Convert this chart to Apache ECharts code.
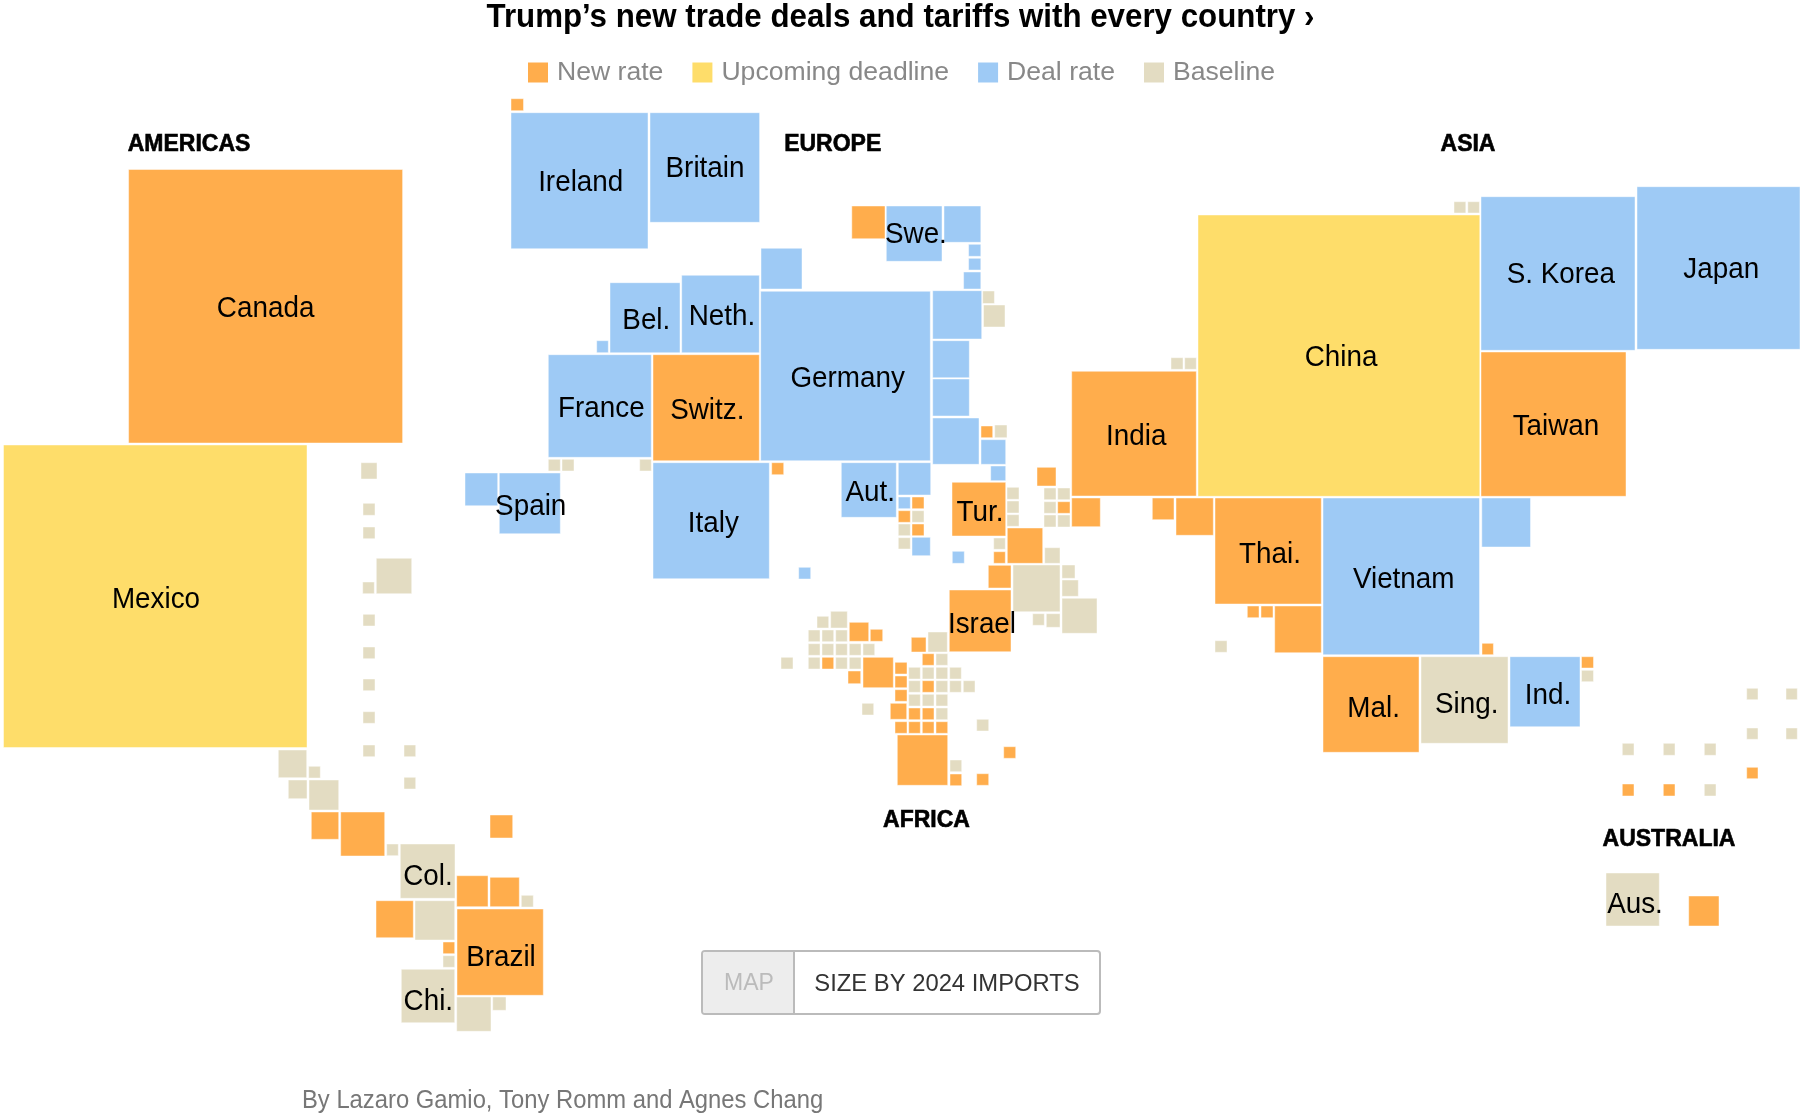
<!DOCTYPE html>
<html><head><meta charset="utf-8">
<style>html,body{margin:0;padding:0;background:#fff}#c{width:1806px;height:1120px}</style>
<script src="https://cdn.jsdelivr.net/npm/echarts@6/dist/echarts.min.js"></script>
</head><body><div id="c"></div>
<script>
// Cartogram cells: [x, y, width, height] in cartogram units
const newRate = [
[128.6,169.5,274,273.5],[511,98.7,12.5,12],[851.8,206,33.2,32.7],[653,354.7,106.3,106],[771.7,462.7,12,12],
[912,497,12,11.7],[898.3,510.7,12,11.6],[912,524,12,11.7],[981,426,11.7,11.7],[952,482.3,53.7,53.7],
[1037,467.3,19,18.7],[1057.7,501.7,12.3,11.6],[1071.7,498,28.6,28.7],[1071.7,371.3,124.6,124.7],
[1152.3,498,21.7,21.7],[1176,498,37.3,37.3],[1215,498,106.3,106],[1247.3,606,11.7,11.7],[1261,606,12,11.7],
[1274.7,606,46.6,46.7],[1482,643.3,11.4,11.4],[1323,656.7,96,95.6],[1581.5,656.7,12,11.3],[1746.7,767.3,11.3,11.4],
[1622.3,784,11.7,12],[1663.3,784,11.7,12],[1688.7,896,30.3,30],[1481,352,145,144.3],
[1007.3,528,35.4,35.3],[993.7,551.7,11.6,11.6],[988.3,565.3,22.7,22.7],[949.3,590,61.7,61.7],
[849.3,622.3,19.4,19],[870.3,629.3,12.4,12],[822,657.3,11.7,11.7],[863,657.3,30.3,30.4],[848,671,12.7,12.7],
[895,662.3,12,11.7],[895,676,12,11.7],[895,689.7,12,11.6],[890.3,703.3,16.4,16],
[895,721.7,12,11.6],[908.7,721.7,11.6,11.6],[922.3,721.7,11.7,11.6],[936,721.7,11.7,11.6],
[908.7,708,11.6,11.7],[922.3,708,11.7,11.7],[922.3,680.7,11.7,11.6],[922.3,653.7,11.7,11.6],
[911.3,637.3,14.7,14.7],[897.3,735,50.4,50.3],[950,774,11.7,11.7],[976.7,773.7,12,11.6],[1003.7,746.7,12,11.6],
[311.3,812,27.4,27.3],[340.7,812,44,44],[490,815,22.7,23],[456.7,875.7,31.3,31],[490,877.3,29.3,29.4],
[376,900.7,37.3,37],[457,909,86.3,86.3],[443,942,11.7,11.7]
];
const upcoming = [
[3.5,445,303.5,302.5],[1198,215,281.8,281.3]
];
const dealRate = [
[511,112.7,137,136],[650,112.7,109.6,109.6],[886.3,206,55.7,55.3],[944,206,36.8,36.3],[968.6,244.3,12.2,12],
[968.6,258.3,12.2,11.7],[963.6,272,17.2,17],[761,248.3,41,40.7],[610,282.7,70,70],[681.7,275.3,77.6,77.4],
[596.7,340.7,11.6,12],[548.3,354.7,103,102.6],[760.7,291.3,169.6,169.4],[932.7,290.7,49,48.3],[932.7,340.7,36.6,37],
[932.7,379,36.6,37],[932.7,418,46.3,46.3],[653,462.7,116.3,116],[465,473,32.7,32.7],[499.3,473,61,60.7],
[841.3,462.7,55,54.6],[898.3,462.7,32.4,32.3],[898.3,497,12,11.7],[912,537.3,18.3,18.4],[798.7,567.3,12,11.7],
[981,439.7,24.7,24.6],[990.7,466,15,14.7],[952.3,551.3,12,12],
[1323,498,156.5,156.7],[1481.8,498,48.7,49],[1510,656.7,70,70],[1481,196.7,154,153.6],[1637,186.7,163,162.6]
];
const baseline = [
[982.7,291,11.7,12.5],[983.5,305,21.5,22],[548.3,459.3,12,11.7],[562,459.3,12,11.7],[639.7,459.3,11.6,11.7],
[898.3,524,12,11.7],[912,510.7,12,11.6],[898.3,537.7,12,11.3],[994.7,425,12.3,12.7],
[1007,487.3,12,12],[1007,501,12,12],[1007,514.7,12,11.6],[1044,488,12,11.7],[1057.7,488,12.3,11.7],
[1044,501.7,12,11.6],[1044,515,12,12],[1057.7,515,12.3,12],[1171,357.7,12,11.6],[1184.7,357.7,11.6,11.6],
[1215,640.7,12,11.6],[1454,201.7,11.8,11.3],[1467.8,201.7,11.6,11.3],[1421,656.7,87,86.6],[1581.5,670.3,12,11.4],
[1746.7,688.3,11.3,11.4],[1786,688.3,11.3,11.4],[1746.7,728,11.3,11.3],[1786,728,11.3,11.3],
[1622.3,743.3,11.7,12],[1663.3,743.3,11.7,12],[1704.3,743.3,11.7,12],[1704.3,784,11.7,12],[1606,873,53.3,53],
[993.7,538,11.6,11.3],[1044.7,547.7,15.3,15.6],[1013,565,47,46.7],[1062,565,13,13.3],[1062,580,16.3,16.3],
[1062,598.3,35,35],[1032.7,613.7,11.6,11.6],[1046.3,613.7,13.7,13.6],
[817,616.3,11.7,11.7],[830.7,611.3,16.6,16.7],[808.3,630,11.7,11.7],[822,630,11.7,11.7],[835.7,630,11.6,11.7],
[808.3,643.7,11.7,11.6],[822,643.7,11.7,11.6],[835.7,643.7,11.6,11.6],[849.3,643.7,11.7,11.6],[863,643.7,11.7,11.6],
[808.3,657.3,11.7,11.7],[835.7,657.3,11.6,11.7],[849.3,657.3,11.7,11.7],[781,657.3,12,11.7],[862,703.3,11.7,11.7],
[936,708,11.7,11.7],[908.7,694.3,11.6,11.7],[922.3,694.3,11.7,11.7],[936,694.3,11.7,11.7],
[908.7,680.7,11.6,11.6],[936,680.7,11.7,11.6],[949.7,680.7,11.6,11.6],[963.3,680.7,11.7,11.6],
[908.7,667.3,11.6,11.7],[922.3,667.3,11.7,11.7],[936,667.3,11.7,11.7],[949.7,667.3,11.6,11.7],
[936,653.7,11.7,11.6],[928,632,19.3,20],[950,760,11.7,11.7],[976.7,719.3,12,11.7],
[361,462.7,16,16.3],[363,503.3,12,12],[363,527,12,11.7],[376.3,558.3,35.4,35.4],[362.7,582,11.6,11.7],
[363,614.3,12,11.7],[363,647,12,11.7],[363,679,12,11.7],[363,711.7,12,11.6],[363,745,12,11.7],
[404,745,11.7,11.7],[404,777.3,11.7,11.7],[278.3,750,28.4,27.7],[308.7,766.3,11.6,11.7],[288.3,780,18.7,18.7],
[309,780,29.7,30],[386.7,844,11.6,11.7],[400.3,844,54.7,54.3],[521.3,895.3,12,11.7],[415,900.7,39.7,39.3],
[443,955.7,11.7,11.6],[401.3,969.3,53.4,53.4],[456.7,997,34.3,34.3],[492.7,997,13.3,13.3]
];
const countryNames = ["Canada","Mexico","Ireland","Britain","Swe.","Bel.","Neth.","France","Switz.","Germany","Spain","Italy","Aut.","Tur.","Israel","India","Thai.","China","S. Korea","Japan","Taiwan","Vietnam","Mal.","Sing.","Ind.","Aus.","Col.","Brazil","Chi."];
const countryX = [265.6,156,580.7,705,915.9,646.3,722,601.3,707.3,847.7,530.7,713.3,870.3,980,982,1136.3,1270,1341,1560.8,1721.3,1556,1403.7,1373.6,1466.7,1548,1635,428,501,428.3];
const countryY = [308.7,600,182.7,168.7,235,320.5,317,408.7,410.7,378.7,507,523.7,492.7,512.7,625,437,555,357.7,275.3,270,427,579.7,708.7,704.7,696.3,904.7,877,958,1002];
const regionNames = ["AMERICAS","EUROPE","ASIA","AFRICA","AUSTRALIA"];
const regionX = [189,832.7,1468,926.5,1669];
const regionY = [145,145,145,821,839.7];
const legendNames = ["New rate","Upcoming deadline","Deal rate","Baseline"];
const titleText = "Trump’s new trade deals and tariffs with every country ›";
const creditText = "By Lazaro Gamio, Tony Romm and Agnes Chang";

const COLORS = {"New rate":"#FFAD4C","Upcoming deadline":"#FEDD6A","Deal rate":"#9ECAF5","Baseline":"#E3DCC2"};
const SANS = '"Liberation Sans", Arial, sans-serif';

function renderCell(params, api){
  const p = api.coord([api.value(0), api.value(1)]);
  const s = api.size([api.value(2), api.value(3)]);
  return {type:'rect', shape:{x:p[0],y:p[1],width:s[0],height:s[1]},
    style:{fill:COLORS[params.seriesName], stroke:'rgba(255,255,255,0.45)', lineWidth:1}};
}
function cellSeries(name, data){
  return {name, type:'custom', coordinateSystem:'cartesian2d', renderItem:renderCell, data, silent:true, animation:false, clip:false,
    encode:{x:0,y:1}, itemStyle:{color:COLORS[name]}};
}
function labelSeries(name, names, xs, ys, font, squeeze, edge){
  return {name, type:'custom', coordinateSystem:'cartesian2d', silent:true, animation:false, z:5, clip:false,
    data:names.map((n,i)=>[xs[i],ys[i],n]), encode:{x:0,y:1},
    renderItem(params, api){
      const p = api.coord([api.value(0), api.value(1)]);
      return {type:'text', x:p[0], y:p[1], scaleX:squeeze,
        style:{x:0,y:0,text:names[params.dataIndex],font,fill:'#000',align:'center',verticalAlign:'middle',
               stroke:'#000',lineWidth:edge}};
    }};
}
const chart = echarts.init(document.getElementById('c'), null, {renderer:'canvas'});
chart.setOption({
  animation:false,
  backgroundColor:'#fff',
  legend:{data:legendNames.map(n=>({name:n,icon:'rect'})),left:528,top:59,padding:0,itemWidth:20,itemHeight:20,itemGap:29,selectedMode:false,
    textStyle:{fontFamily:SANS,fontSize:26.6,color:'#888',padding:[2,0,0,4]}},
  grid:{left:0,right:0,top:0,bottom:0},
  xAxis:{type:'value',min:0,max:1806,show:false},
  yAxis:{type:'value',min:0,max:1120,inverse:true,show:false},
  series:[
    cellSeries("New rate",newRate),
    cellSeries("Upcoming deadline",upcoming),
    cellSeries("Deal rate",dealRate),
    cellSeries("Baseline",baseline),
    labelSeries('countries',countryNames,countryX,countryY,'29px '+SANS,0.96,0),
    labelSeries('regions',regionNames,regionX,regionY,'bold 23px '+SANS,1,0.6)
  ],
  graphic:[
    {type:'text',silent:true,z:11,x:900.5,y:17.5,scaleX:0.92,style:{x:0,y:0,text:titleText,fill:'#000',font:'bold 34px '+SANS,align:'center',verticalAlign:'middle'}},
    {type:'rect',silent:true,z:10,shape:{x:702,y:951,width:398,height:63,r:3},style:{fill:'#fff',stroke:'#bbb',lineWidth:2}},
    {type:'rect',silent:true,z:10,shape:{x:703,y:952,width:90,height:61,r:[2,0,0,2]},style:{fill:'#ededed'}},
    {type:'rect',silent:true,z:10,shape:{x:793,y:952,width:2,height:61},style:{fill:'#bbb'}},
    {type:'text',silent:true,z:11,style:{x:749,y:984,text:'MAP',fill:'#bbb',font:'23px '+SANS,align:'center',verticalAlign:'middle'}},
    {type:'text',silent:true,z:11,style:{x:947,y:984,text:'SIZE BY 2024 IMPORTS',fill:'#333',font:'23.8px '+SANS,align:'center',verticalAlign:'middle'}},
    {type:'text',silent:true,z:11,x:302,y:1101,scaleX:0.952,style:{x:0,y:0,text:creditText,fill:'#777',font:'25px '+SANS,align:'left',verticalAlign:'middle'}}
  ]
});
</script></body></html>
